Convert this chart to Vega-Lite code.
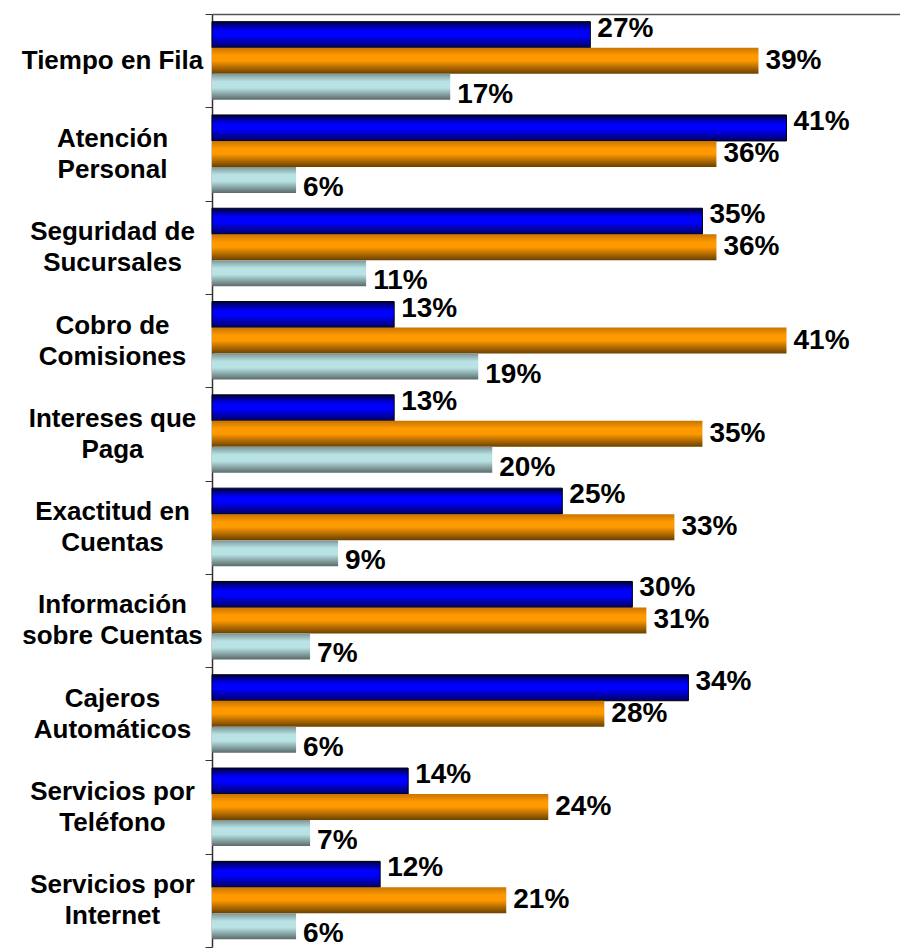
{
  "$schema": "https://vega.github.io/schema/vega-lite/v6.json",
  "width": 688,
  "height": 933,
  "autosize": {"type": "none"},
  "padding": {"left": 212, "top": 14, "right": 0, "bottom": 1},
  "background": "white",
  "config": {"view": {"stroke": null}, "font": "Liberation Sans"},
  "data": {
    "values": [
      {"categoria": "Tiempo en Fila", "serie": "S1", "valor": 0.27},
      {"categoria": "Tiempo en Fila", "serie": "S2", "valor": 0.39},
      {"categoria": "Tiempo en Fila", "serie": "S3", "valor": 0.17},
      {"categoria": "Atención\nPersonal", "serie": "S1", "valor": 0.41},
      {"categoria": "Atención\nPersonal", "serie": "S2", "valor": 0.36},
      {"categoria": "Atención\nPersonal", "serie": "S3", "valor": 0.06},
      {"categoria": "Seguridad de\nSucursales", "serie": "S1", "valor": 0.35},
      {"categoria": "Seguridad de\nSucursales", "serie": "S2", "valor": 0.36},
      {"categoria": "Seguridad de\nSucursales", "serie": "S3", "valor": 0.11},
      {"categoria": "Cobro de\nComisiones", "serie": "S1", "valor": 0.13},
      {"categoria": "Cobro de\nComisiones", "serie": "S2", "valor": 0.41},
      {"categoria": "Cobro de\nComisiones", "serie": "S3", "valor": 0.19},
      {"categoria": "Intereses que\nPaga", "serie": "S1", "valor": 0.13},
      {"categoria": "Intereses que\nPaga", "serie": "S2", "valor": 0.35},
      {"categoria": "Intereses que\nPaga", "serie": "S3", "valor": 0.20},
      {"categoria": "Exactitud en\nCuentas", "serie": "S1", "valor": 0.25},
      {"categoria": "Exactitud en\nCuentas", "serie": "S2", "valor": 0.33},
      {"categoria": "Exactitud en\nCuentas", "serie": "S3", "valor": 0.09},
      {"categoria": "Información\nsobre Cuentas", "serie": "S1", "valor": 0.30},
      {"categoria": "Información\nsobre Cuentas", "serie": "S2", "valor": 0.31},
      {"categoria": "Información\nsobre Cuentas", "serie": "S3", "valor": 0.07},
      {"categoria": "Cajeros\nAutomáticos", "serie": "S1", "valor": 0.34},
      {"categoria": "Cajeros\nAutomáticos", "serie": "S2", "valor": 0.28},
      {"categoria": "Cajeros\nAutomáticos", "serie": "S3", "valor": 0.06},
      {"categoria": "Servicios por\nTeléfono", "serie": "S1", "valor": 0.14},
      {"categoria": "Servicios por\nTeléfono", "serie": "S2", "valor": 0.24},
      {"categoria": "Servicios por\nTeléfono", "serie": "S3", "valor": 0.07},
      {"categoria": "Servicios por\nInternet", "serie": "S1", "valor": 0.12},
      {"categoria": "Servicios por\nInternet", "serie": "S2", "valor": 0.21},
      {"categoria": "Servicios por\nInternet", "serie": "S3", "valor": 0.06}
    ]
  },
  "encoding": {
    "y": {
      "field": "categoria", "type": "nominal", "sort": null,
      "scale": {"paddingInner": 0, "paddingOuter": 0},
      "axis": {
        "title": null,
        "labelExpr": "isString(datum.value) ? split(datum.value, '\\n') : ''",
        "labelAlign": "center",
        "labelBaseline": "middle",
        "labelOffset": {"condition": {"test": "isString(datum.value) && indexof(datum.value, '\\n') >= 0", "value": -15.5}, "value": 0},
        "labelPadding": 93,
        "labelFont": "Liberation Sans",
        "labelFontSize": 26,
        "labelFontWeight": "bold",
        "labelColor": "black",
        "labelLineHeight": 31,
        "labelLimit": 400,
        "tickBand": "extent",
        "tickSize": 7,
        "tickColor": "#333333",
        "domainColor": "#333333",
        "domainWidth": 1.5
      }
    },
    "yOffset": {
      "field": "serie", "type": "nominal",
      "scale": {"domain": ["S1", "S2", "S3"], "paddingInner": 0, "paddingOuter": 0.294}
    },
    "x": {
      "field": "valor", "type": "quantitative",
      "scale": {"domain": [0, 0.491], "nice": false, "zero": true},
      "axis": {"orient": "top", "title": null, "labels": false, "ticks": false, "grid": false, "domainColor": "#555555", "domainWidth": 1.5}
    }
  },
  "layer": [
    {
      "transform": [{"filter": "datum.serie === 'S1'"}],
      "mark": {
        "type": "bar",
        "color": {"gradient": "linear", "x1": 0, "y1": 0, "x2": 0, "y2": 1,
          "stops": [
            {"offset": 0, "color": "#000040"},
            {"offset": 0.35, "color": "#0000FF"},
            {"offset": 0.55, "color": "#0000FF"},
            {"offset": 1, "color": "#000060"}
          ]},
        "stroke": "black", "strokeWidth": 1
      }
    },
    {
      "transform": [{"filter": "datum.serie === 'S2'"}],
      "mark": {
        "type": "bar",
        "color": {"gradient": "linear", "x1": 0, "y1": 0, "x2": 0, "y2": 1,
          "stops": [
            {"offset": 0, "color": "#C87400"},
            {"offset": 0.3, "color": "#FF9900"},
            {"offset": 0.5, "color": "#FF9900"},
            {"offset": 1, "color": "#6A4000"}
          ]}
      }
    },
    {
      "transform": [{"filter": "datum.serie === 'S3'"}],
      "mark": {
        "type": "bar",
        "color": {"gradient": "linear", "x1": 0, "y1": 0, "x2": 0, "y2": 1,
          "stops": [
            {"offset": 0, "color": "#7C9494"},
            {"offset": 0.3, "color": "#B8E2E4"},
            {"offset": 0.55, "color": "#B8E2E4"},
            {"offset": 1, "color": "#5A6A6A"}
          ]}
      }
    },
    {
      "transform": [{"filter": "datum.serie === 'S1'"}],
      "mark": {"type": "text", "align": "left", "baseline": "middle", "dx": 7, "dy": -6, "fontSize": 28, "fontWeight": "bold", "color": "black", "font": "Liberation Sans"},
      "encoding": {"text": {"field": "valor", "type": "quantitative", "format": ".0%"}}
    },
    {
      "transform": [{"filter": "datum.serie === 'S2'"}],
      "mark": {"type": "text", "align": "left", "baseline": "middle", "dx": 7, "dy": 0, "fontSize": 28, "fontWeight": "bold", "color": "black", "font": "Liberation Sans"},
      "encoding": {"text": {"field": "valor", "type": "quantitative", "format": ".0%"}}
    },
    {
      "transform": [{"filter": "datum.serie === 'S3'"}],
      "mark": {"type": "text", "align": "left", "baseline": "middle", "dx": 7, "dy": 8, "fontSize": 28, "fontWeight": "bold", "color": "black", "font": "Liberation Sans"},
      "encoding": {"text": {"field": "valor", "type": "quantitative", "format": ".0%"}}
    }
  ]
}
